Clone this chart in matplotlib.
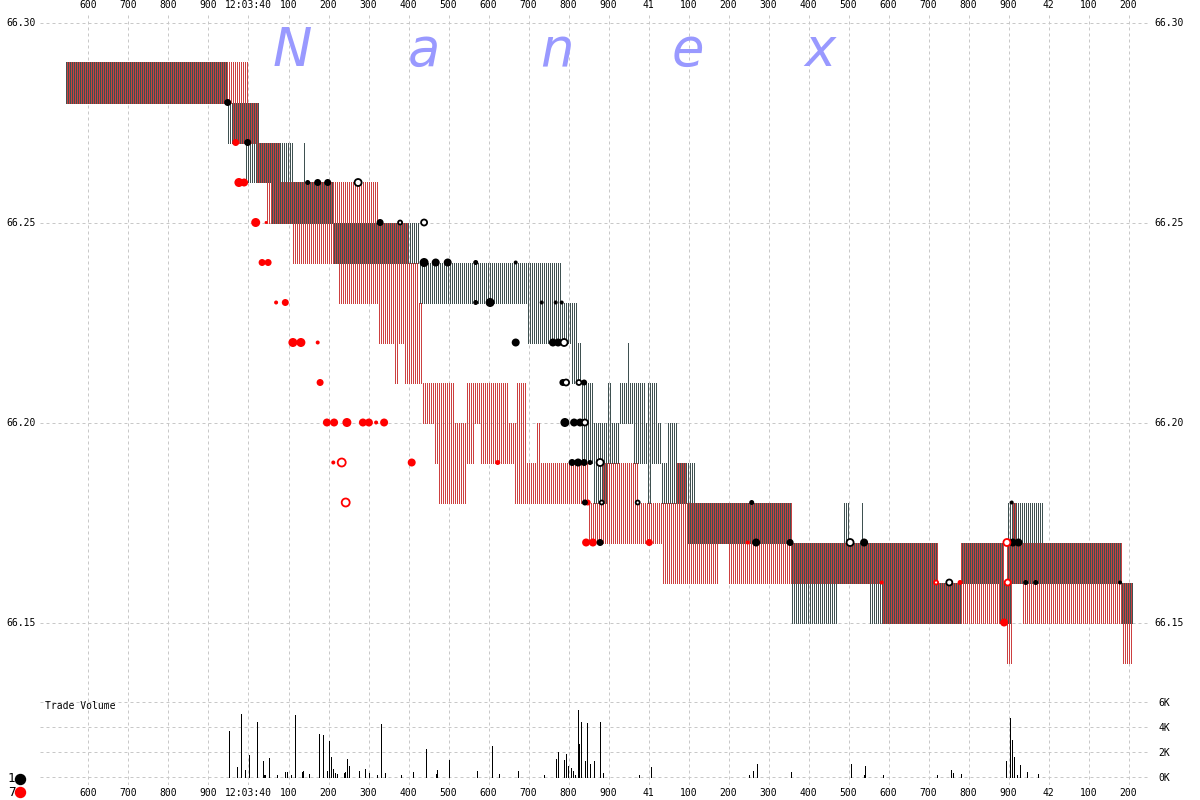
import numpy as np
import matplotlib
matplotlib.use('Agg')
import matplotlib.pyplot as plt
from matplotlib.lines import Line2D

# times are ms after 12:03:39.000, prices are cents over 66.00

# exchange 1 quote (bid/ask) segments: breakpoints, then bid and ask per segment
ex1_t = [544, 949, 994, 1026, 1059, 1111, 1138, 1141, 1211, 1429, 1699, 1781, 1809, 1821,
         1834, 1861, 1899, 1906, 1929, 1947, 1951, 1961, 1991, 1996, 2006, 2021, 2031, 2049,
         2074, 2096, 2116, 2359, 2471, 2486, 2504, 2534, 2539, 2554, 2724, 2784, 2876, 2889,
         2899, 2909, 2986, 3184, 3211]
ex1_bid = [28, 27, 26, 26, 25, 25, 25, 25, 24, 23, 22, 22, 21, 21,
           19, 18, 19, 19, 20, 20, 20, 19, 19, 18, 19, 19, 18, 18,
           18, 17, 17, 15, 16, 16, 16, 16, 16, 15, 15, 16, 15, 15,
           15, 16, 16, 15]
ex1_ask = [29, 28, 28, 27, 27, 26, 27, 26, 25, 24, 24, 23, 23, 22,
           21, 20, 21, 20, 21, 22, 21, 21, 20, 21, 21, 20, 19, 20,
           19, 19, 18, 17, 17, 18, 17, 18, 17, 17, 16, 17, 17, 16,
           18, 18, 17, 16]

# exchange 7 quote segments
ex7_t = [544, 961, 999, 1019, 1026, 1046, 1079, 1111, 1226, 1324, 1366, 1374, 1391, 1399,
         1424, 1436, 1466, 1476, 1514, 1544, 1564, 1581, 1649, 1666, 1671, 1694, 1721, 1729,
         1849, 1886, 1974, 2036, 2071, 2096, 2174, 2199, 2359, 2586, 2724, 2779, 2889, 2896,
         2909, 2921, 2936, 3186, 3211]
ex7_bid = [28, 27, 27, 26, 26, 25, 25, 24, 23, 22, 21, 22, 21, 21,
           21, 20, 19, 18, 18, 19, 20, 19, 19, 18, 18, 18, 18, 18,
           17, 17, 17, 16, 16, 16, 17, 16, 16, 15, 15, 15, 15, 14,
           16, 16, 15, 14]
ex7_ask = [29, 29, 28, 28, 27, 27, 26, 26, 26, 25, 25, 25, 25, 24,
           23, 21, 21, 21, 20, 21, 21, 21, 20, 20, 21, 19, 20, 19,
           18, 19, 18, 18, 19, 18, 18, 18, 17, 17, 16, 17, 16, 17,
           18, 17, 17, 16]

# trades
ex1_trade_t = [948, 998, 1148, 1173, 1198, 1274, 1329, 1379, 1439, 1439, 1468, 1498, 1568,
               1668, 1568, 1604, 1733, 1768, 1783, 1668, 1761, 1774, 1789, 1786, 1794, 1826,
               1839, 1791, 1814, 1829, 1841, 1809, 1824, 1839, 1854, 1879, 1841, 1883, 1973,
               1879, 2258, 2269, 2354, 2504, 2539, 2752, 2908, 2925, 2911, 2943, 2968, 3179]
ex1_trade_p = [28, 27, 26, 26, 26, 26, 25, 25, 25, 24, 24, 24, 24,
               24, 23, 23, 23, 23, 23, 22, 22, 22, 22, 21, 21, 21,
               21, 20, 20, 20, 20, 19, 19, 19, 19, 19, 18, 18, 18,
               17, 18, 17, 17, 17, 17, 16, 18, 17, 17, 16, 16, 16]
ex1_trade_d = [7, 7, 5, 7, 7, 7, 7, 4, 6, 9, 8, 8, 5,
               4, 5, 9, 4, 4, 4, 8, 8, 8, 7, 7, 6, 5,
               6, 9, 8, 8, 6, 7, 8, 7, 5, 7, 6, 4, 4,
               7, 5, 8, 7, 7, 8, 6, 4, 8, 8, 5, 5, 4]
ex1_trade_open = [0, 0, 0, 0, 0, 1, 0, 1, 1, 0, 0, 0, 0,
                  0, 0, 0, 0, 0, 0, 0, 0, 0, 1, 0, 1, 1,
                  0, 0, 0, 0, 1, 0, 0, 0, 0, 1, 0, 1, 1,
                  0, 0, 0, 0, 1, 0, 1, 0, 0, 0, 0, 0, 0]

ex7_trade_t = [968, 976, 989, 1018, 1044, 1034, 1049, 1069, 1092, 1111, 1131, 1173, 1179,
               1196, 1214, 1246, 1286, 1301, 1319, 1339, 1212, 1233, 1408, 1623, 1243, 1808,
               1848, 1844, 1861, 2002, 2248, 2583, 2719, 2756, 2779, 2889, 2896, 2905, 2898]
ex7_trade_p = [27, 26, 26, 25, 25, 24, 24, 23, 23, 22, 22, 22, 21,
               20, 20, 20, 20, 20, 20, 20, 19, 19, 19, 19, 18, 19,
               18, 17, 17, 17, 17, 16, 16, 16, 16, 15, 17, 17, 16]
ex7_trade_d = [7, 9, 8, 9, 3, 7, 7, 4, 7, 9, 9, 4, 7,
               8, 8, 9, 8, 8, 4, 8, 4, 8, 8, 5, 8, 4,
               6, 8, 8, 7, 4, 4, 4, 4, 5, 8, 7, 7, 6]
ex7_trade_open = [0, 0, 0, 0, 0, 0, 0, 0, 0, 0, 0, 0, 0,
                  0, 0, 0, 0, 0, 0, 0, 0, 1, 0, 0, 1, 0,
                  0, 0, 0, 0, 0, 0, 1, 0, 0, 0, 1, 0, 1]

# trade volume (thousands of shares)
vol_t = [950, 970, 980, 990, 1001, 1020, 1035, 1038, 1041, 1051, 1070, 1091, 1096, 1105,
         1115, 1132, 1136, 1150, 1175, 1186, 1195, 1200, 1205, 1211, 1216, 1221, 1237, 1241,
         1245, 1250, 1276, 1290, 1301, 1321, 1331, 1340, 1381, 1411, 1442, 1467, 1471, 1501,
         1571, 1607, 1626, 1672, 1737, 1768, 1773, 1787, 1792, 1797, 1806, 1811, 1816, 1822,
         1826, 1831, 1841, 1846, 1852, 1863, 1879, 1885, 1975, 2005, 2251, 2260, 2270, 2356,
         2505, 2537, 2541, 2586, 2721, 2756, 2761, 2780, 2892, 2902, 2907, 2912, 2921, 2927,
         2946, 2972]
vol_k = [3.65, 0.77, 5.07, 0.59, 1.79, 4.43, 1.31, 0.19, 0.19, 1.52, 0.19, 0.37, 0.37, 0.19,
         4.99, 0.37, 0.45, 0.27, 3.47, 3.39, 0.45, 2.85, 1.57, 0.67, 0.32, 0.27, 0.32, 0.37,
         1.47, 0.85, 0.45, 0.67, 0.32, 0.19, 4.27, 0.32, 0.19, 0.37, 2.27, 0.27, 0.53, 1.39,
         0.45, 2.45, 0.27, 0.45, 0.19, 1.47, 2.0, 1.33, 1.87, 0.85, 0.72, 0.45, 0.19, 5.39,
         2.67, 4.43, 1.25, 4.35, 1.07, 1.25, 4.37, 0.32, 0.19, 0.77, 0.19, 0.45, 1.07, 0.37,
         1.07, 0.19, 0.85, 0.19, 0.19, 0.53, 0.32, 0.27, 1.25, 4.72, 2.99, 1.57, 0.19, 0.99,
         0.37, 0.27]

xticks = list(range(600, 3201, 100))
xtick_labels = [{1000: '12:03:40', 2000: '41', 3000: '42'}.get(t, str(t % 1000)) for t in xticks]
price_ticks = [66.15, 66.20, 66.25, 66.30]

GRAY = '#3f5151'
RED = '#cc4040'
GRID = '#c8c8c8'
PX = 0.72  # one pixel in points at dpi 100


def sample_quotes(bounds, bids, asks, offset):
    # one vertical line every 5 ms (2 px); the two exchanges interleave column by column.
    # start slightly off the pixel centre so snapping can't push two lines onto one column
    xs, lo, hi = [], [], []
    edges = np.array(bounds)
    for t in np.arange(544.4 + offset, 3215, 5.0):
        i = np.searchsorted(edges, t, side='right') - 1
        if 0 <= i < len(bids):
            xs.append(t)
            lo.append(66 + bids[i] / 100)
            hi.append(66 + asks[i] / 100)
    return xs, lo, hi


fig = plt.figure(figsize=(12, 8), dpi=100)
ax = fig.add_axes([40 / 1200, 110 / 800, 1110 / 1200, 677 / 800])
axv = fig.add_axes([40 / 1200, 15 / 800, 1110 / 1200, 95 / 800], sharex=ax)

for a in (ax, axv):
    for s in a.spines.values():
        s.set_visible(False)
    a.grid(True, color=GRID, linestyle=(0, (3, 3)), linewidth=PX)
    a.set_axisbelow(True)

ax.set_xlim(478.75, 3253.75)
ax.set_ylim(66.133125, 66.302375)
axv.set_ylim(-0.64, 6.96)

# quotes
x1, lo1, hi1 = sample_quotes(ex1_t, ex1_bid, ex1_ask, 0)
x7, lo7, hi7 = sample_quotes(ex7_t, ex7_bid, ex7_ask, 2.5)
ax.vlines(x1, lo1, hi1, colors=GRAY, linewidth=PX, antialiased=False, zorder=2)
ax.vlines(x7, lo7, hi7, colors=RED, linewidth=PX, antialiased=False, zorder=2)

# trades
for tt, pp, dd, oo, col in [(ex7_trade_t, ex7_trade_p, ex7_trade_d, ex7_trade_open, 'red'),
                            (ex1_trade_t, ex1_trade_p, ex1_trade_d, ex1_trade_open, 'black')]:
    tt = np.array(tt)
    pp = 66 + np.array(pp) / 100
    ss = (np.array(dd) * PX) ** 2
    oo = np.array(oo, dtype=bool)
    ax.scatter(tt[~oo], pp[~oo], s=ss[~oo], c=col, linewidths=0, zorder=4)
    ax.scatter(tt[oo], pp[oo], s=ss[oo], facecolors='white', edgecolors=col,
               linewidths=1.3, zorder=5)

# watermark
for ch, xp in zip('Nanex', [292, 424, 557, 688, 820]):
    fig.text(xp / 1200, 1 - 66 / 800, ch, color='#9999ff', fontsize=38, style='italic',
             ha='center', va='baseline', family='DejaVu Sans')

tick_font = dict(family='DejaVu Sans Mono', size=7)

ax.set_xticks(xticks)
ax.xaxis.tick_top()
ax.tick_params(axis='x', length=0, pad=2, labeltop=True, labelbottom=False)
ax.set_xticklabels(xtick_labels, fontdict=tick_font)
ax.set_yticks(price_ticks)
ax.set_yticklabels(['%.2f' % p for p in price_ticks], fontdict=tick_font)
ax.tick_params(axis='y', length=0, labelleft=True, labelright=True, pad=3)

# volume panel
axv.vlines(np.array(vol_t) + 0.6, 0, vol_k, colors='black', linewidth=PX,
           antialiased=False, zorder=3)
axv.set_yticks([0, 2, 4, 6])
axv.yaxis.tick_right()
axv.set_yticklabels(['0K', '2K', '4K', '6K'], fontdict=tick_font)
axv.tick_params(axis='y', length=0, pad=6)
axv.tick_params(axis='x', length=0, pad=2, labelbottom=True)
axv.set_xticklabels(xtick_labels, fontdict=tick_font)
fig.text(45 / 1200, 1 - 706 / 800, 'Trade Volume', fontsize=7,
         family='DejaVu Sans Mono', va='center', ha='left')

# exchange key
for lab, col, yp in [('1', 'black', 779), ('7', 'red', 792)]:
    fig.text(8 / 1200, 1 - yp / 800, lab, fontsize=9, family='DejaVu Sans Mono',
             va='center', ha='left')
    fig.add_artist(Line2D([20 / 1200], [1 - yp / 800], marker='o', ms=10 * PX,
                          color=col, mec=col, transform=fig.transFigure))

fig.savefig('out.png', dpi=100)
